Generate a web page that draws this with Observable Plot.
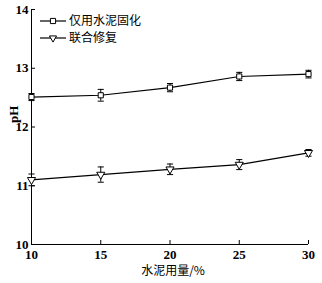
<!DOCTYPE html>
<html><head><meta charset="utf-8">
<script src="https://cdn.jsdelivr.net/npm/d3@7"></script>
<script src="https://cdn.jsdelivr.net/npm/@observablehq/plot@0.6"></script>
<style>
body{margin:0;background:#fff;}
</style>
</head><body>
<div id="chart"></div>
<script>
const dosage = [10, 15, 20, 25, 30];
const cementOnly = [12.51, 12.54, 12.67, 12.86, 12.90];
const cementOnlyErr = [0.06, 0.10, 0.07, 0.07, 0.065];
const combined = [11.10, 11.19, 11.28, 11.36, 11.56];
const combinedErr = [0.10, 0.13, 0.09, 0.085, 0.057];
const seriesNames = ["仅用水泥固化", "联合修复"];
const xTicks = [10, 15, 20, 25, 30];
const yTicks = [10, 11, 12, 13, 14];

const rows = [];
dosage.forEach((x, i) => {
  rows.push({s: seriesNames[0], x, y: cementOnly[i], e: cementOnlyErr[i]});
  rows.push({s: seriesNames[1], x, y: combined[i], e: combinedErr[i]});
});
const capHalf = 0.22;
const serif = "'Liberation Serif','DejaVu Serif',serif";
const cjk = "'Noto Sans CJK SC',sans-serif";

const plot = Plot.plot({
  width: 322, height: 283,
  marginLeft: 31, marginRight: 14, marginTop: 9, marginBottom: 39,
  style: {fontFamily: serif, fontSize: "13px", color: "#000", background: "#fff"},
  x: {domain: [10, 30]},
  y: {domain: [10, 14]},
  marks: [
    Plot.axisX({ticks: xTicks, tickFormat: d => d, tickSize: -4, tickPadding: 9, label: null, fontSize: 13, fontWeight: "bold"}),
    Plot.axisY({ticks: yTicks, tickFormat: d => d, tickSize: -4, tickPadding: 7, label: null, fontSize: 13, fontWeight: "bold"}),
    Plot.ruleX([10], {y1: 10, y2: 14, stroke: "#000"}),
    Plot.ruleY([10], {x1: 10, x2: 30, stroke: "#000"}),
    Plot.line(rows, {x: "x", y: "y", z: "s", stroke: "#000", strokeWidth: 1.2}),
    Plot.ruleX(rows, {x: "x", y1: d => d.y - d.e, y2: d => d.y + d.e, stroke: "#000"}),
    Plot.link(rows, {x1: d => d.x - capHalf, x2: d => d.x + capHalf, y1: d => d.y + d.e, y2: d => d.y + d.e, stroke: "#000"}),
    Plot.link(rows, {x1: d => d.x - capHalf, x2: d => d.x + capHalf, y1: d => d.y - d.e, y2: d => d.y - d.e, stroke: "#000"}),
    Plot.dot(rows.filter(d => d.s === seriesNames[0]), {x: "x", y: "y", symbol: "square", r: 2.9, fill: "#fff", stroke: "#000", strokeWidth: 1}),
    Plot.dot(rows.filter(d => d.s === seriesNames[1]), {x: "x", y: "y", symbol: "triangle", rotate: 180, r: 3, fill: "#fff", stroke: "#000", strokeWidth: 1}),
    Plot.text(["pH"], {frameAnchor: "left", dx: -18, dy: -4, rotate: -90, fontFamily: serif, fontSize: 13, fontWeight: "bold"}),
    Plot.text(["水泥用量/%"], {frameAnchor: "bottom", dx: 3, dy: 30, fontFamily: cjk, fontSize: 12})
  ]
});
document.getElementById("chart").appendChild(plot);

// legend
const svg = d3.select(plot);
const lg = svg.append("g").attr("text-anchor", "start");
const symS = d3.symbol(d3.symbolSquare2, 34)();
const symT = d3.symbol(d3.symbolTriangle2, 36)();
seriesNames.forEach((name, i) => {
  const y = 21 + i * 17;
  lg.append("line").attr("x1", 40).attr("x2", 66).attr("y1", y).attr("y2", y).attr("stroke", "#000").attr("stroke-width", 1.2);
  lg.append("path").attr("d", i === 0 ? symS : symT)
    .attr("transform", `translate(53,${y})` + (i === 1 ? " rotate(180)" : ""))
    .attr("fill", "#fff").attr("stroke", "#000");
  lg.append("text").attr("x", 69).attr("y", y).attr("dy", "0.35em").attr("text-anchor", "start")
    .attr("font-family", cjk).attr("font-size", 12).attr("fill", "#000").text(name);
});
</script>
</body></html>
